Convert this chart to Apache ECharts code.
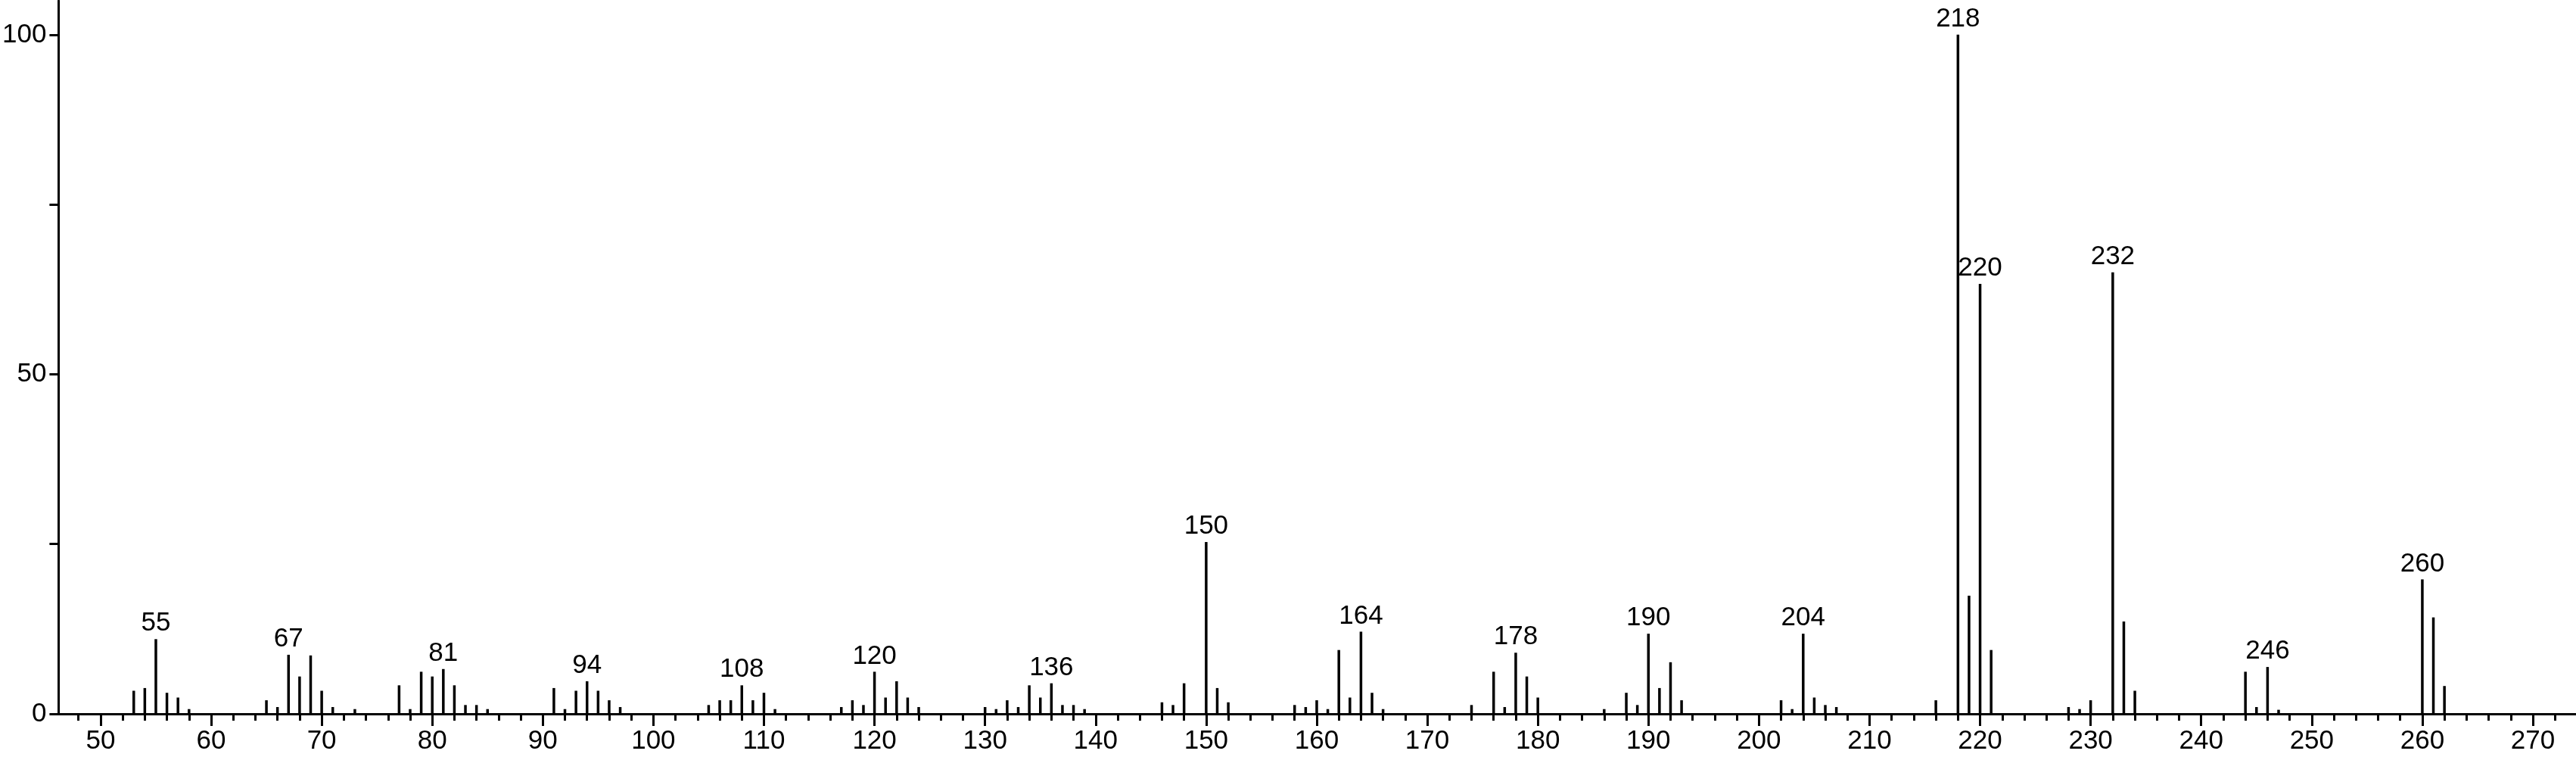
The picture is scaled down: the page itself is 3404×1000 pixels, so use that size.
<!DOCTYPE html>
<html>
<head>
<meta charset="utf-8">
<script src="https://cdn.jsdelivr.net/npm/echarts@6/dist/echarts.min.js"></script>
<style>
  html, body { margin: 0; padding: 0; background: #fff; }
  #chart { width: 3404px; height: 1000px; }
</style>
</head>
<body>
<div id="chart"></div>
<script>
// m/z of each peak and its relative intensity (%)
var mz = [
  53, 54, 55, 56, 57, 58, 65, 66, 67, 68, 69, 70, 71, 73, 77, 78, 79, 80, 81, 82, 83, 84, 85,
  91, 92, 93, 94, 95, 96, 97, 105, 106, 107, 108, 109, 110, 111, 117, 118, 119, 120, 121, 122, 123, 124,
  130, 131, 132, 133, 134, 135, 136, 137, 138, 139, 146, 147, 148, 150, 151, 152,
  158, 159, 160, 161, 162, 163, 164, 165, 166, 174, 176, 177, 178, 179, 180,
  186, 188, 189, 190, 191, 192, 193, 202, 203, 204, 205, 206, 207, 216, 218, 219, 220, 221,
  228, 229, 230, 232, 233, 234, 244, 245, 246, 247, 260, 261, 262
];
var intensity = [
  3.4, 3.8, 11.0, 3.1, 2.4, 0.7, 2.0, 1.0, 8.7, 5.5, 8.6, 3.4, 1.0, 0.7, 4.2, 0.7, 6.2, 5.5, 6.6, 4.2, 1.3, 1.3, 0.7,
  3.8, 0.7, 3.4, 4.8, 3.4, 2.0, 1.0, 1.3, 2.0, 2.0, 4.2, 2.0, 3.1, 0.7, 1.0, 2.0, 1.3, 6.2, 2.4, 4.8, 2.4, 1.0,
  1.0, 0.7, 2.0, 1.0, 4.2, 2.4, 4.5, 1.3, 1.3, 0.7, 1.7, 1.3, 4.5, 25.3, 3.8, 1.7,
  1.3, 1.0, 2.0, 0.7, 9.4, 2.4, 12.1, 3.1, 0.7, 1.3, 6.2, 1.0, 9.0, 5.5, 2.4,
  0.7, 3.1, 1.3, 11.8, 3.8, 7.6, 2.0, 2.0, 0.7, 11.8, 2.4, 1.3, 1.0, 2.0, 100, 17.4, 63.3, 9.4,
  1.0, 0.7, 2.0, 65.0, 13.6, 3.4, 6.2, 1.0, 6.9, 0.6, 19.8, 14.2, 4.1
];
// peaks that carry an m/z label
var labelled = [55, 67, 81, 94, 108, 120, 136, 150, 164, 178, 190, 204, 218, 220, 232, 246, 260];

var xMajor = [50, 60, 70, 80, 90, 100, 110, 120, 130, 140, 150, 160, 170, 180, 190, 200, 210, 220, 230, 240, 250, 260, 270];
var xMinor = [];
for (var v = 48; v <= 272; v += 2) {
  if (v % 10 !== 0) xMinor.push(v);
}
var yTicks = [0, 25, 50, 75, 100];
var yLabels = [0, 50, 100];

var font = "Liberation Sans";
var black = "#000";

var peaks = mz.map(function(m, i) {
  var item = { value: [m, intensity[i]] };
  if (labelled.indexOf(m) >= 0) {
    item.label = { show: true };
  }
  return item;
});

var myChart = echarts.init(document.getElementById("chart"));
var option = {
  animation: false,
  backgroundColor: "#fff",
  grid: { left: 69, right: 0, top: 1, bottom: 57, containLabel: false },
  xAxis: [
    {
      type: "value",
      min: 46.2,
      max: 273.9,
      axisLine: { show: true, lineStyle: { color: black, width: 3 } },
      axisTick: { show: true, customValues: xMajor, length: 16, lineStyle: { color: black, width: 3 } },
      axisLabel: {
        customValues: xMajor,
        margin: 19,
        color: black,
        fontFamily: font,
        fontSize: 35,
      },
      splitLine: { show: false },
    },
    {
      type: "value",
      position: "bottom",
      min: 46.2,
      max: 273.9,
      axisLine: { show: false },
      axisTick: { show: true, customValues: xMinor, length: 9, lineStyle: { color: black, width: 3 } },
      axisLabel: { show: false },
      splitLine: { show: false },
    },
  ],
  yAxis: {
    type: "value",
    min: 0,
    max: 105,
    axisLine: { show: true, lineStyle: { color: black, width: 3 } },
    axisTick: { show: true, customValues: yTicks, length: 12, lineStyle: { color: black, width: 3 } },
    axisLabel: {
      customValues: yLabels,
      margin: 16,
      color: black,
      fontFamily: font,
      fontSize: 35,
    },
    splitLine: { show: false },
  },
  series: [
    {
      type: "bar",
      xAxisIndex: 0,
      barWidth: 3.5,
      itemStyle: { color: black },
      label: {
        show: false,
        position: "top",
        distance: 3,
        color: black,
        fontFamily: font,
        fontSize: 35,
        formatter: function(params) {
          return params.value[0].toString();
        },
      },
      data: peaks,
    },
  ],
};

myChart.setOption(option);
</script>
</body>
</html>
